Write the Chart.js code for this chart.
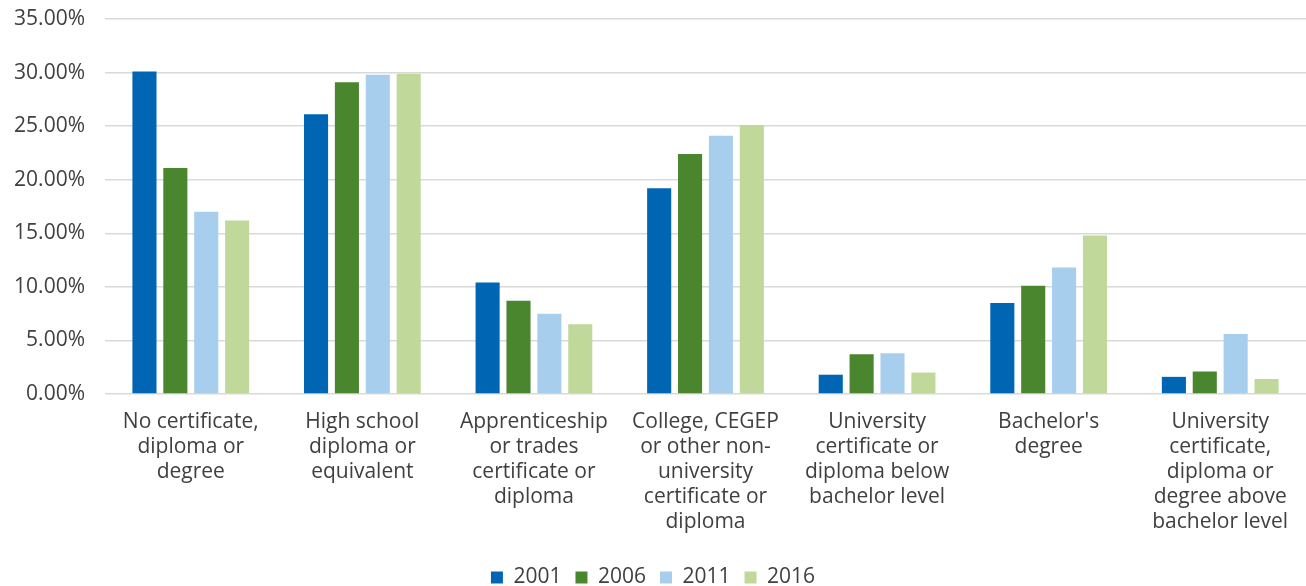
<!DOCTYPE html>
<html>
<head>
<meta charset="utf-8">
<script src="https://cdn.jsdelivr.net/npm/chart.js@4"></script>
<style>
    html, body { margin: 0; padding: 0; background: #fff; }
    #wrap { width: 1306px; height: 586px; }
</style>
</head>
<body>
<div id="wrap"><canvas id="eduChart" width="1306" height="586"></canvas></div>
<script>
const categories = [
    ['No certificate,', 'diploma or', 'degree'],
    ['High school', 'diploma or', 'equivalent'],
    ['Apprenticeship', 'or trades', 'certificate or', 'diploma'],
    ['College, CEGEP', 'or other non-', 'university', 'certificate or', 'diploma'],
    ['University', 'certificate or', 'diploma below', 'bachelor level'],
    ["Bachelor's", 'degree'],
    ['University', 'certificate,', 'diploma or', 'degree above', 'bachelor level']
];
const years = ['2001', '2006', '2011', '2016'];
const values2001 = [30.1, 26.1, 10.4, 19.2, 1.8, 8.5, 1.6];
const values2006 = [21.1, 29.1, 8.7, 22.4, 3.7, 10.1, 2.1];
const values2011 = [17.0, 29.8, 7.5, 24.1, 3.8, 11.8, 5.6];
const values2016 = [16.2, 29.9, 6.5, 25.1, 2.0, 14.8, 1.4];
const yTicks = [0, 5, 10, 15, 20, 25, 30, 35];

const colors = ['#0066b3', '#4a862e', '#a8ceee', '#c0d99b'];
const series = [values2001, values2006, values2011, values2016];
const textColor = '#404040';
const fontFamily = '"Open Sans", sans-serif';

const ctx = document.getElementById('eduChart').getContext('2d');
new Chart(ctx, {
    type: 'bar',
    data: {
        labels: categories,
        datasets: series.map((data, i) => ({
            label: years[i],
            data: data,
            backgroundColor: colors[i],
            borderWidth: 0,
            categoryPercentage: 0.72,
            barPercentage: 0.78
        }))
    },
    options: {
        responsive: false,
        animation: false,
        layout: { padding: { top: 0, left: 0, right: 0, bottom: -12 } },
        plugins: {
            tooltip: { enabled: false },
            legend: {
                position: 'bottom',
                labels: {
                    boxWidth: 12,
                    boxHeight: 12,
                    padding: 14,
                    color: textColor,
                    font: { family: fontFamily, size: 21, lineHeight: 1.0 }
                }
            }
        },
        scales: {
            x: {
                grid: { display: false },
                border: { display: false },
                afterFit: scale => { scale.height = 159; },
                ticks: {
                    color: textColor,
                    font: { family: fontFamily, size: 21, lineHeight: 1.19 },
                    maxRotation: 0,
                    autoSkip: false,
                    padding: 8
                }
            },
            y: {
                min: 0,
                max: 35,
                afterBuildTicks: scale => { scale.ticks = yTicks.map(v => ({ value: v })); },
                afterFit: scale => {
                    scale.width = 105;
                    scale.paddingTop = 19;
                    scale.paddingBottom = 0;
                },
                grid: { color: '#d9d9d9', lineWidth: 1.5, drawTicks: false },
                border: { display: false },
                ticks: {
                    color: textColor,
                    padding: 20,
                    font: { family: fontFamily, size: 21, lineHeight: 1.0 },
                    callback: v => v.toFixed(2) + '%'
                }
            }
        }
    }
});
</script>
</body>
</html>
